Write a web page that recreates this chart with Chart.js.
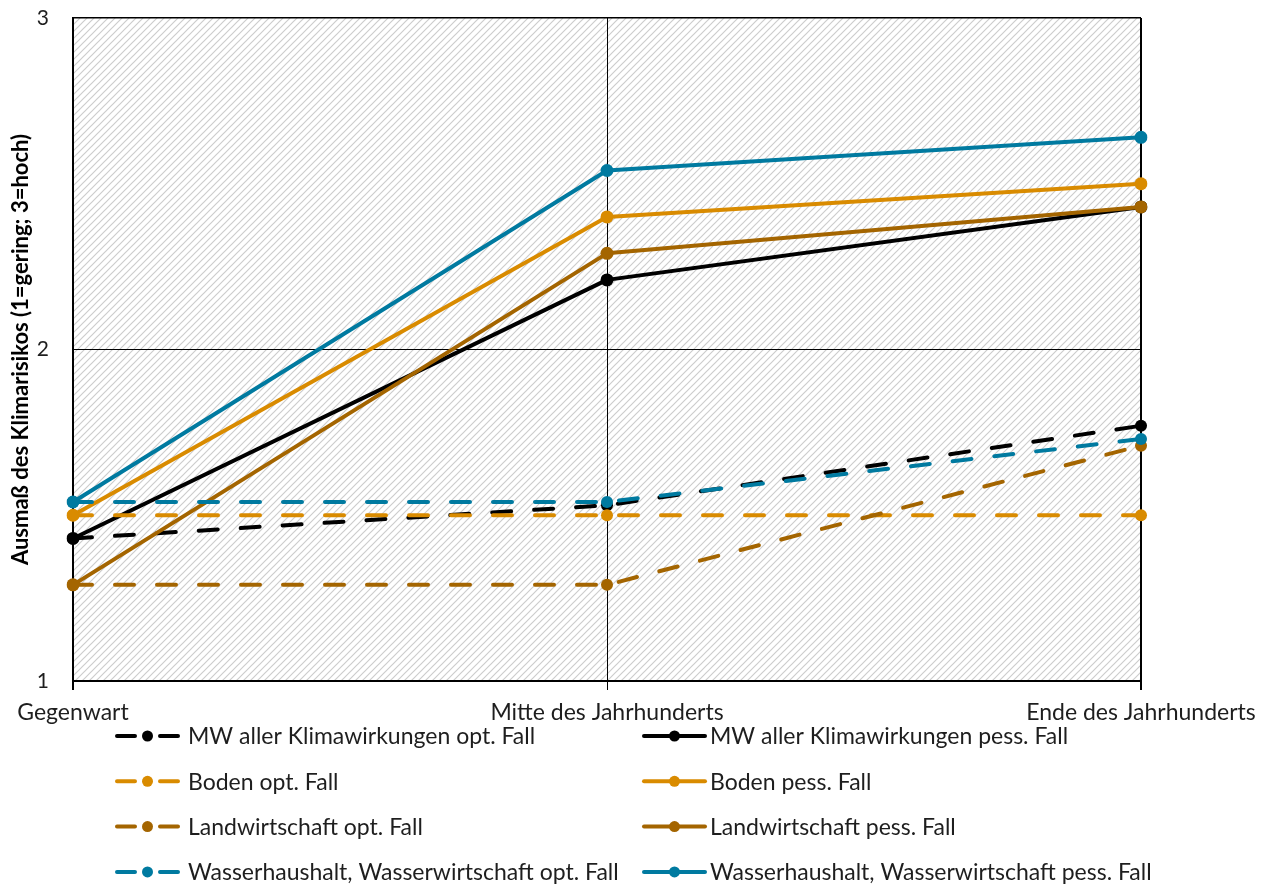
<!DOCTYPE html>
<html>
<head>
<meta charset="utf-8">
<script src="https://cdn.jsdelivr.net/npm/chart.js@4.4.1/dist/chart.umd.min.js"></script>
<style>
  html, body { margin: 0; padding: 0; background: #ffffff; }
  #wrap { width: 1273px; height: 885px; position: relative; }
</style>
</head>
<body>
<div id="wrap"><canvas id="c" width="1273" height="885"></canvas></div>
<script>
// Zeitabschnitte (x-Achse)
const categories = ['Gegenwart', 'Mitte des Jahrhunderts', 'Ende des Jahrhunderts'];

// Klimarisiko je Handlungsfeld, optimistischer und pessimistischer Fall
const mwOpt      = [1.43, 1.53, 1.77];
const mwPess     = [1.43, 2.21, 2.43];
const bodenOpt   = [1.50, 1.50, 1.50];
const bodenPess  = [1.50, 2.40, 2.50];
const landOpt    = [1.29, 1.29, 1.71];
const landPess   = [1.29, 2.29, 2.43];
const wasserOpt  = [1.54, 1.54, 1.73];
const wasserPess = [1.54, 2.54, 2.64];

const seriesLabels = [
  'MW aller Klimawirkungen opt. Fall',
  'MW aller Klimawirkungen pess. Fall',
  'Boden opt. Fall',
  'Boden pess. Fall',
  'Landwirtschaft opt. Fall',
  'Landwirtschaft pess. Fall',
  'Wasserhaushalt, Wasserwirtschaft opt. Fall',
  'Wasserhaushalt, Wasserwirtschaft pess. Fall'
];

const yTicks = [1, 2, 3];
const yTitle = 'Ausmaß des Klimarisikos (1=gering; 3=hoch)';

const FONT = 'Lato';
const TEXT = '#1e1e1e';
const DASH = [19, 23];

const colBlack  = '#000000';
const colOrange = '#d98b00';
const colBrown  = '#a46500';
const colBlue   = '#007aa0';

function series(label, data, color, dashed, idx) {
  return {
    label: label,
    data: data,
    borderColor: color,
    backgroundColor: color,
    pointBackgroundColor: color,
    pointBorderColor: color,
    borderWidth: 4,
    borderDash: dashed ? DASH : [],
    borderCapStyle: 'round',
    borderJoinStyle: 'round',
    pointRadius: dashed ? 6 : 6.5,
    pointBorderWidth: 0,
    pointHoverRadius: 6.5,
    tension: 0,
    fill: false,
    order: 10 - idx,
    _dashed: dashed
  };
}

const datasets = [
  series(seriesLabels[0], mwOpt,      colBlack,  true,  0),
  series(seriesLabels[1], mwPess,     colBlack,  false, 1),
  series(seriesLabels[2], bodenOpt,   colOrange, true,  2),
  series(seriesLabels[3], bodenPess,  colOrange, false, 3),
  series(seriesLabels[4], landOpt,    colBrown,  true,  4),
  series(seriesLabels[5], landPess,   colBrown,  false, 5),
  series(seriesLabels[6], wasserOpt,  colBlue,   true,  6),
  series(seriesLabels[7], wasserPess, colBlue,   false, 7)
];

// schraffierter Hintergrund der Zeichenfläche
function hatchPattern(ctx) {
  const s = 7;
  const t = document.createElement('canvas');
  t.width = s; t.height = s;
  const g = t.getContext('2d');
  g.fillStyle = '#ffffff';
  g.fillRect(0, 0, s, s);
  g.strokeStyle = '#cdcdcd';
  g.lineWidth = 1.2;
  g.beginPath();
  g.moveTo(-1, s + 1); g.lineTo(s + 1, -1);
  g.moveTo(-1, 1); g.lineTo(1, -1);
  g.moveTo(s - 1, s + 1); g.lineTo(s + 1, s - 1);
  g.stroke();
  return ctx.createPattern(t, 'repeat');
}

const hatchPlugin = {
  id: 'hatch',
  beforeDraw(chart) {
    const { ctx, chartArea: a } = chart;
    ctx.save();
    ctx.fillStyle = hatchPattern(ctx);
    ctx.fillRect(a.left, a.top, a.right - a.left, a.bottom - a.top);
    ctx.restore();
  }
};

// Legende in zwei Spalten: links optimistischer, rechts pessimistischer Fall
const legendPlugin = {
  id: 'twoColLegend',
  afterDraw(chart) {
    const { ctx, chartArea: a } = chart;
    const colX = [115, 642];
    const textGap = [73, 68];
    const rowH = 45.3;
    const firstY = a.bottom + 55;
    ctx.save();
    ctx.font = '23px ' + FONT;
    ctx.textBaseline = 'middle';
    ctx.textAlign = 'left';
    chart.data.datasets.forEach((ds, i) => {
      const col = i % 2;
      const row = Math.floor(i / 2);
      const x0 = colX[col];
      const y = firstY + row * rowH;
      const len = 65;
      ctx.strokeStyle = ds.borderColor;
      ctx.fillStyle = ds.borderColor;
      ctx.lineWidth = 4;
      ctx.lineCap = 'round';
      ctx.setLineDash([]);
      ctx.beginPath();
      if (ds._dashed) {
        ctx.moveTo(x0 + 2, y); ctx.lineTo(x0 + 20, y);
        ctx.moveTo(x0 + len - 20, y); ctx.lineTo(x0 + len - 2, y);
      } else {
        ctx.moveTo(x0 + 2, y); ctx.lineTo(x0 + len - 2, y);
      }
      ctx.stroke();
      ctx.beginPath();
      ctx.arc(x0 + len / 2, y, 5.5, 0, Math.PI * 2);
      ctx.fill();
      ctx.fillStyle = TEXT;
      ctx.fillText(ds.label, x0 + textGap[col], y + 1);
    });
    ctx.restore();
  }
};

new Chart(document.getElementById('c'), {
  type: 'line',
  data: { labels: categories, datasets: datasets },
  plugins: [hatchPlugin, legendPlugin],
  options: {
    responsive: false,
    animation: false,
    events: [],
    layout: { padding: { top: 18, right: 132, left: 0, bottom: 0 } },
    plugins: { legend: { display: false }, tooltip: { enabled: false } },
    scales: {
      x: {
        type: 'category',
        offset: false,
        grid: {
          color: '#000000',
          lineWidth: c => (c.index === 1 ? 1 : 2),
          tickLength: 9,
          drawOnChartArea: true
        },
        border: { color: '#000000', width: 2 },
        ticks: {
          color: TEXT,
          font: { family: FONT, size: 23 },
          padding: 9,
          maxRotation: 0,
          autoSkip: false
        },
        afterFit(s) { s.height = 204; }
      },
      y: {
        min: yTicks[0],
        max: yTicks[yTicks.length - 1],
        afterBuildTicks(s) { s.ticks = yTicks.map(v => ({ value: v })); },
        grid: {
          color: '#000000',
          lineWidth: c => (c.tick && c.tick.value === 3 ? 1.5 : 1),
          drawTicks: false
        },
        border: { color: '#000000', width: 2 },
        ticks: {
          color: TEXT,
          font: { family: FONT, size: 21 },
          padding: 24
        },
        title: {
          display: true,
          text: yTitle,
          color: '#000000',
          font: { family: FONT, size: 22, weight: 'bold' },
          padding: { top: 8, bottom: 0 }
        },
        afterFit(s) {
          s.width = 73;
          s.paddingTop = 0;
          s.paddingBottom = 0;
        }
      }
    }
  }
});
</script>
</body>
</html>
